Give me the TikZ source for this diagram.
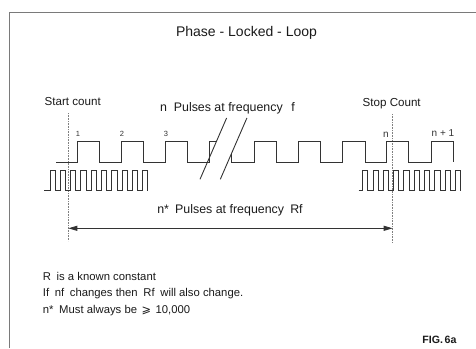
\documentclass[tikz,border=0pt]{standalone}
\usepackage{fontspec}
\setmainfont{Liberation Sans}
\newfontfamily\symfont{DejaVu Sans}
\usetikzlibrary{arrows.meta}
\definecolor{wave}{HTML}{333333}
\definecolor{framec}{HTML}{7A7A7A}
\definecolor{txt}{HTML}{1A1A1A}
\tikzset{
  wavepath/.style={draw=wave, line width=0.9pt, line join=miter},
  framepath/.style={draw=framec, line width=1.6pt},
  marker/.style={draw=gray, line width=0.8pt, dash pattern=on 0.8pt off 0.8pt},
  lbl/.style={inner sep=0pt, text=txt, font=\fontsize{11.6}{13}\selectfont},
  biglbl/.style={inner sep=0pt, text=txt, font=\fontsize{12.4}{14}\selectfont},
  ttl/.style={inner sep=0pt, text=txt, font=\fontsize{14}{16}\selectfont},
  tiny/.style={inner sep=0pt, text=wave, font=\fontsize{7.5}{8}\selectfont},
  small/.style={inner sep=0pt, text=wave, font=\fontsize{10}{12}\selectfont},
  note/.style={inner sep=0pt, anchor=west, text=txt, font=\fontsize{11.3}{13}\selectfont},
  figlbl/.style={inner sep=0pt, anchor=east, text=txt, font=\fontsize{10.6}{12}\selectfont\bfseries},
  span/.style={draw=wave, line width=0.9pt, {Triangle[length=9pt,width=5pt]}-{Triangle[length=9pt,width=5pt]}}
}
\begin{document}
\begin{tikzpicture}[x=1pt,y=-1pt]
\useasboundingbox (0,0) rectangle (476,348);
% frame
\draw[framepath] (9.5,348) -- (9.5,12.5) -- (476,12.5);
% title
\node[ttl] (title) at (246.5,33) {Phase - Locked - Loop};
% markers
\node[lbl] (start) at (72.7,101.7) {Start count};
\node[lbl] (stop) at (391.7,104) {Stop Count};
\coordinate (startTop) at (68.3,113);
\coordinate (startBot) at (68.3,241);
\coordinate (stopTop) at (392.7,114);
\coordinate (stopBot) at (392.7,243);
\draw[marker] (startTop) -- (startBot);
\draw[marker] (stopTop) -- (stopBot);
% top labels
\node[biglbl] (npulses) at (227.5,108) {n\hspace{0.55em}Pulses at frequency\hspace{0.7em}f};
\node[tiny] (p1) at (78,134.3) {1};
\node[tiny] (p2) at (122,134.3) {2};
\node[tiny] (p3) at (166,134.3) {3};
\node[small] (pn) at (386,135) {n};
\node[small] (pn1) at (443,133) {n + 1};
% top waveform (frequency f)
\draw[wavepath] (56,162.3) -- (77.3,162.3) -- (77.3,141.7) -- (99,141.7) -- (99,162.3)
  -- (121,162.3) -- (121,141.7) -- (143.3,141.7) -- (143.3,162.3)
  -- (165.5,162.3) -- (165.5,141.7) -- (187.7,141.7) -- (187.7,162.3)
  -- (209.3,162.3) -- (209.3,141.7) -- (216.3,141.7);
\draw[wavepath] (231.7,153) -- (231.7,162.3)
  -- (254.3,162.3) -- (254.3,141.7) -- (276.5,141.7) -- (276.5,162.3)
  -- (298.3,162.3) -- (298.3,141.7) -- (320.3,141.7) -- (320.3,162.3)
  -- (342.7,162.3) -- (342.7,141.7) -- (365,141.7) -- (365,162.3)
  -- (386.7,162.3) -- (386.7,141.7) -- (408.7,141.7) -- (408.7,162.3)
  -- (431,162.3) -- (431,141.7) -- (453.3,141.7) -- (453.3,162.3);
% break marks
\coordinate (b1a) at (200,179.3);
\coordinate (b1b) at (226.6,118);
\coordinate (b2a) at (220.3,179.3);
\coordinate (b2b) at (246.9,118);
\draw[wavepath] (b1a) -- (b1b);
\draw[wavepath] (b2a) -- (b2b);
% bottom waveforms (frequency Rf)
\draw[wavepath] (44,190.7) -- (50,190.7)
  \foreach \k in {1,...,9}{ -- ++(0,-20) -- ++(5.2,0) -- ++(0,20) -- ++(5.1,0)}
  -- ++(0,-20) -- ++(5.2,0) -- ++(0,20);
\draw[wavepath] (358.7,190.7) -- (362.7,190.7)
  \foreach \k in {1,...,9}{ -- ++(0,-20) -- ++(5.2,0) -- ++(0,20) -- ++(5.1,0)}
  -- ++(0,-20) -- ++(5.2,0) -- ++(0,20);
% span arrow
\node[biglbl] (nstar) at (230,210) {n*\hspace{0.5em}Pulses at frequency\hspace{0.5em}Rf};
\coordinate (arL) at (68.3,228.3);
\coordinate (arR) at (392.7,228.3);
\draw[span] (arL) -- (arR);
% notes
\node[note] (note1) at (42.7,276.7) {R\hspace{0.5em}is a known constant};
\node[note] (note2) at (42.7,293.3) {If\hspace{0.5em}nf\hspace{0.5em}changes then\hspace{0.5em}Rf\hspace{0.5em}will also change.};
\node[note] (note3) at (42.7,311) {n*\hspace{0.5em}Must always be\hspace{0.4em}{\symfont ⩾}\hspace{0.4em}10,000};
\node[figlbl] (fig) at (456.7,340) {FIG.\,6a};
\end{tikzpicture}
\end{document}
